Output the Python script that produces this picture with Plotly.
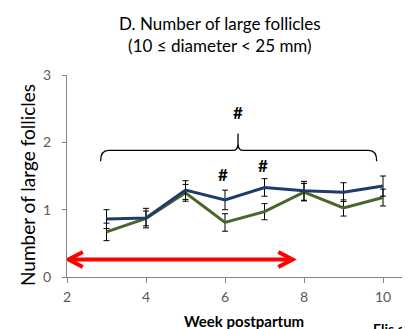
import plotly.graph_objects as go

weeks = [3, 4, 5, 6, 7, 8, 9, 10]
blue_vals = [0.86, 0.875, 1.29, 1.145, 1.33, 1.28, 1.26, 1.35]
blue_err = [0.14, 0.145, 0.14, 0.145, 0.13, 0.14, 0.14, 0.15]
green_vals = [0.67, 0.87, 1.25, 0.81, 0.97, 1.26, 1.025, 1.18]
green_err = [0.13, 0.11, 0.125, 0.13, 0.12, 0.13, 0.12, 0.125]
x_ticks = [2, 4, 6, 8, 10]
y_ticks = [0, 1, 2, 3]
sig_weeks = [6, 7]
sig_y = [1.52, 1.65]

FONT = "Lato"
BLUE = "#1F3B6B"
GREEN = "#4A6626"

# page body has an 8px margin: lay out in figure pixels = page pixels - 8
OFF = 8
W, H = 410 - OFF, 329 - OFF
L, T = 67 - OFF, 75 - OFF
B = H - (277 - OFF)
PW = W - L
PH = H - T - B

fig = go.Figure()
fig.add_trace(go.Scatter(
    x=weeks, y=green_vals, mode="lines",
    line=dict(color=GREEN, width=3),
    error_y=dict(type="data", array=green_err, color="black", thickness=1, width=3),
    showlegend=False))
fig.add_trace(go.Scatter(
    x=weeks, y=blue_vals, mode="lines",
    line=dict(color=BLUE, width=3),
    error_y=dict(type="data", array=blue_err, color="black", thickness=1, width=3),
    showlegend=False))

# red double arrow
arr_y = 0.26
x0, x1 = 2.0, 7.75
fig.add_shape(type="line", x0=x0 + 0.05, x1=x1 - 0.05, y0=arr_y, y1=arr_y,
              line=dict(color="#FF0000", width=4), xref="x", yref="y")
fig.add_shape(type="path", path=f"M {x0+0.4},{arr_y+0.11} L {x0+0.04},{arr_y} L {x0+0.4},{arr_y-0.11}",
              line=dict(color="#FF0000", width=4), xref="x", yref="y")
fig.add_shape(type="path", path=f"M {x1-0.4},{arr_y+0.11} L {x1-0.04},{arr_y} L {x1-0.4},{arr_y-0.11}",
              line=dict(color="#FF0000", width=4), xref="x", yref="y")

# bracket
xl, xr, xc = 2.85, 9.84, 6.33
yt, yh, yp = 1.72, 1.88, 2.13
path = (f"M {xl},{yt} Q {xl},{yh} {xl+0.2},{yh} L {xc-0.13},{yh} Q {xc},{yh} {xc},{yh+0.1} L {xc},{yp} "
        f"M {xc},{yh+0.1} Q {xc},{yh} {xc+0.13},{yh} L {xr-0.2},{yh} Q {xr},{yh} {xr},{yt}")
fig.add_shape(type="path", path=path, line=dict(color="black", width=1.3), xref="x", yref="y")

fig.add_annotation(x=xc, y=2.44, text="<b>#</b>", showarrow=False, font=dict(family=FONT, size=17, color="black"))
for wx, wy in zip(sig_weeks, sig_y):
    fig.add_annotation(x=wx - 0.04, y=wy, text="<b>#</b>", showarrow=False,
                       font=dict(family=FONT, size=17, color="black"))


def px(xp):
    return (xp - OFF - L) / PW


def py(yp_):
    return (H - (yp_ - OFF) - B) / PH


# titles
fig.add_annotation(xref="paper", yref="paper", x=px(220), y=py(34), xanchor="center", yanchor="middle",
                   text="D. Number of large follicles<br>(10 ≤ diameter < 25 mm)",
                   showarrow=False, font=dict(family=FONT, size=17, color="black"))
fig.add_annotation(xref="paper", yref="paper", x=px(27), y=py(185), xanchor="center", yanchor="middle",
                   text="Number of large follicles", textangle=-90, showarrow=False,
                   font=dict(family=FONT, size=19, color="black"))
fig.add_annotation(xref="paper", yref="paper", x=px(244), y=py(321), xanchor="center", yanchor="middle",
                   text="<b>Week postpartum</b>", showarrow=False,
                   font=dict(family=FONT, size=15, color="black"))
fig.add_annotation(xref="paper", yref="paper", x=px(371), y=py(318), xanchor="left", yanchor="top",
                   text="<b>Elis et al.</b>", showarrow=False,
                   font=dict(family=FONT, size=14, color="black"))

fig.update_xaxes(range=[2, 2 + PW / 39.5], tickvals=x_ticks, ticks="outside", ticklen=5,
                 tickcolor="#868686", showline=True, linecolor="#868686", linewidth=1,
                 ticklabelstandoff=2,
                 showgrid=False, zeroline=False, tickfont=dict(family=FONT, size=14, color="#595959"))
fig.update_yaxes(range=[0, 3], tickvals=y_ticks, ticks="outside", ticklen=4,
                 tickcolor="#868686", showline=True, linecolor="#868686", linewidth=1,
                 ticklabelstandoff=8,
                 showgrid=False, zeroline=False, tickfont=dict(family=FONT, size=14, color="#595959"))

fig.update_layout(width=W, height=H, margin=dict(l=L, r=0, t=T, b=B),
                  paper_bgcolor="white", plot_bgcolor="white", showlegend=False)
fig.write_html("out.html")
